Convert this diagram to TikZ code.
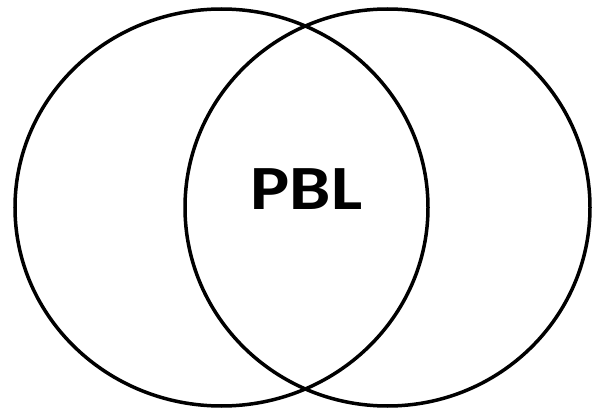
\documentclass[tikz,border=0pt]{standalone}
\usepackage{fontspec}
\setmainfont{Carlito}
\begin{document}
\begin{tikzpicture}[x=1pt,y=-1pt,
  ring/.style={draw=black,line width=3.5pt}]
\useasboundingbox (0,0) rectangle (592,409);
\draw[ring] (221.5,207.5) ellipse [x radius=206.5,y radius=198.5];
\draw[ring] (387.5,207.5) ellipse [x radius=202.5,y radius=198.5];
\node[font=\bfseries\fontsize{63}{70}\selectfont,inner sep=0pt,anchor=base] (pbl) at (306.5,210) {\scalebox{1.17}[1]{PBL}};
\end{tikzpicture}
\end{document}
